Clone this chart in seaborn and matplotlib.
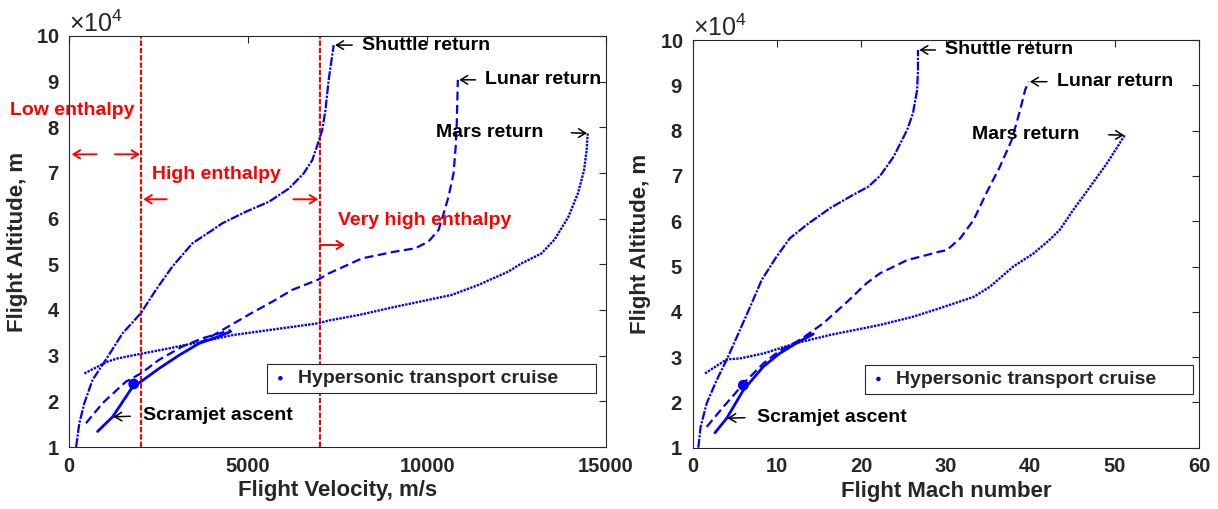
import matplotlib
matplotlib.use("Agg")
import matplotlib.pyplot as plt
import seaborn as sns

# ---------------- Trajectories vs. flight velocity (m/s, m) ----------------
shuttle_vel = [190, 280, 420, 650, 1020, 1490, 2000, 2420, 2880, 3440, 4000, 4280,
               4930, 5580, 6140, 6550, 6790, 6950, 7070, 7160, 7250, 7390]
shuttle_alt_v = [10000, 15200, 19600, 24700, 29100, 34900, 39300, 44400, 49500, 54600, 57500, 59000,
                 61500, 63700, 66600, 69900, 72800, 76500, 79400, 83800, 90400, 98000]

lunar_vel = [3630, 4560, 5110, 5670, 6230, 6970, 7250, 8180, 9110, 9670, 10040, 10320,
             10410, 10600, 10740, 10800, 10830, 10860]
lunar_alt_v = [32700, 36900, 39400, 41800, 44400, 46700, 48000, 51300, 52800, 53500, 55000, 57500,
               59700, 64800, 69900, 75800, 80900, 90400]

mars_vel = [420, 1070, 1350, 2000, 2790, 3720, 4560, 6970, 7250, 8090, 9110, 10690, 11440,
            12270, 12640, 13200, 13570, 13950, 14220, 14390, 14460, 14490]
mars_alt_v = [26100, 28700, 29400, 30400, 31600, 33100, 34500, 37100, 37700, 38900, 40700, 43300, 45500,
              48400, 50200, 52400, 55500, 60400, 65600, 70700, 75000, 78700]

scram_vel = [790, 1210, 1770, 2000, 2510, 3070, 3630, 4180, 4510]
scram_alt_v = [13400, 16600, 23200, 24300, 27200, 30100, 32700, 34200, 35300]

scram_up_vel = [465, 930, 1580, 2000, 2510, 3160, 3720, 4510]
scram_up_alt_v = [15200, 19600, 24300, 26100, 29100, 32000, 33800, 35600]

cruise_vel = [1800]
cruise_alt_v = [23800]

enthalpy_bounds = [2000, 7000]   # m/s

# ---------------- Trajectories vs. flight Mach number ----------------
shuttle_mach = [0.67, 0.94, 1.66, 2.84, 4.03, 5.6, 7.0, 8.17, 9.95, 11.5, 13.5, 16.3,
                19.0, 20.8, 22.2, 23.8, 25.4, 26.1, 26.6, 26.7, 26.7]
shuttle_alt_m = [10000, 14600, 19800, 24900, 29400, 36000, 41900, 47000, 52200, 56200, 59200, 62900,
                 65800, 67600, 70000, 74200, 80100, 83800, 89000, 93400, 97800]

lunar_mach = [11.9, 15.5, 18.3, 20.6, 22.2, 25.4, 29.3, 30.1, 31.7, 33.3, 34.8, 36.4,
              37.8, 38.8, 39.4, 39.8]
lunar_alt_m = [32700, 37500, 42200, 46300, 48500, 51400, 53300, 53600, 56200, 60300, 66200, 72000,
               77900, 84500, 89000, 90800]

mars_mach = [1.46, 4.03, 5.6, 8.37, 12.3, 16.3, 22.2, 26.1, 29.3, 33.3, 35.2, 38.0, 40.4,
             42.3, 43.5, 45.1, 47.1, 49.1, 50.6, 51.2]
mars_alt_m = [26400, 29500, 29700, 30800, 33100, 34900, 37100, 38900, 40800, 43300, 45500, 50000, 52900,
              55900, 58100, 62500, 67600, 72800, 77200, 79000]

scram_mach = [2.64, 4.03, 6.0, 8.37, 10.3, 12.3, 14.3]
scram_alt_m = [13300, 16500, 22700, 27900, 30800, 33100, 35100]

scram_up_mach = [1.66, 3.63, 6.4, 8.37, 10.3, 12.3, 14.5]
scram_up_alt_m = [14600, 19000, 24900, 28600, 31400, 33400, 35600]

cruise_mach = [6.0]
cruise_alt_m = [23800]

# ---------------- Style ----------------
sns.set_theme(style="white")
plt.rcParams["font.family"] = ["Liberation Sans", "DejaVu Sans"]
plt.rcParams["mathtext.fontset"] = "custom"
plt.rcParams["mathtext.rm"] = "Liberation Sans"

BLUE = (0, 0, 1)
GRAY = "#262626"
FS_TICK = 14.5
FS_LABEL = 16
FS_NOTE = 14

LS_SHUTTLE = (0, (4.0, 0.7, 1.0, 0.7))
LS_DASH = (0, (4.0, 2.0))
LS_DOT = (0, (1.0, 0.5))

fig = plt.figure(figsize=(12.18, 5.09), dpi=100)
ax1 = fig.add_axes([0.0569, 0.1218, 0.4406, 0.8075])
ax2 = fig.add_axes([0.5687, 0.1204, 0.4157, 0.8010])


def draw_panel(ax, sx, sy, lx, ly, mx, my, cx, cy, ux, uy, px, py):
    sns.lineplot(x=sx, y=sy, ax=ax, sort=False, estimator=None, color=BLUE,
                 lw=1.6, linestyle=LS_SHUTTLE)
    sns.lineplot(x=ux, y=uy, ax=ax, sort=False, estimator=None, color=BLUE,
                 lw=1.6, linestyle=LS_DASH)
    sns.lineplot(x=lx, y=ly, ax=ax, sort=False, estimator=None, color=BLUE,
                 lw=1.6, linestyle=LS_DASH)
    sns.lineplot(x=mx, y=my, ax=ax, sort=False, estimator=None, color=BLUE,
                 lw=1.7, linestyle=LS_DOT)
    sns.lineplot(x=cx, y=cy, ax=ax, sort=False, estimator=None, color=BLUE,
                 lw=2.0, linestyle="-")
    sns.scatterplot(x=px, y=py, ax=ax, color=BLUE, s=60, edgecolor="none",
                    marker="o", zorder=5)
    return ax.collections[-1]


def style_axes(ax, xlim, xticks, xlabel):
    ax.set_xlim(*xlim)
    ax.set_ylim(10000, 100000)
    ax.set_xticks(xticks)
    ax.set_yticks(range(10000, 100001, 10000))
    ax.ticklabel_format(axis="y", style="sci", scilimits=(4, 4), useMathText=True)
    ax.ticklabel_format(axis="x", style="plain")
    ax.yaxis.get_offset_text().set_fontsize(18)
    ax.yaxis.get_offset_text().set_color(GRAY)
    ax.tick_params(direction="in", length=5, width=0.8, top=True, right=True,
                   labelsize=FS_TICK, colors=GRAY, pad=7)
    for lab in ax.get_xticklabels() + ax.get_yticklabels():
        lab.set_fontweight("bold")
    for sp in ax.spines.values():
        sp.set_visible(True)
        sp.set_color(GRAY)
        sp.set_linewidth(0.8)
    ax.set_xlabel(xlabel, fontsize=FS_LABEL, fontweight="bold", color=GRAY, labelpad=3)
    ax.set_ylabel("Flight Altitude, m", fontsize=FS_LABEL, fontweight="bold", color=GRAY, labelpad=6)


def add_legend(ax, handle, anchor):
    leg = ax.legend(handles=[handle], labels=["Hypersonic transport cruise"],
                    loc="lower left", bbox_to_anchor=anchor, mode="expand",
                    borderaxespad=0, frameon=True, fancybox=False, markerscale=0.42,
                    handlelength=0.8, handletextpad=0.5, borderpad=0.3,
                    prop={"size": FS_NOTE, "weight": "bold"})
    fr = leg.get_frame()
    fr.set_edgecolor(GRAY)
    fr.set_linewidth(0.8)
    fr.set_facecolor("white")
    fr.set_alpha(1)


def note(ax, text, end, dx, shrink_a, shrink_b=1.0, right=False, dy=0):
    ax.annotate(text, xy=end, xytext=(dx, dy), textcoords="offset pixels",
                ha="right" if right else "left", va="center",
                fontsize=FS_NOTE, fontweight="bold", color="black",
                arrowprops=dict(arrowstyle="->,head_length=0.36,head_width=0.22",
                                color="black", lw=1.1, shrinkA=shrink_a, shrinkB=shrink_b,
                                relpos=(1, 0.5) if right else (0, 0.5)),
                annotation_clip=False)


def red_arrow(ax, tail, head):
    ax.annotate("", xy=head, xytext=tail, xycoords="axes fraction", textcoords="axes fraction",
                arrowprops=dict(arrowstyle="->,head_length=0.4,head_width=0.25",
                                color="red", lw=1.4, shrinkA=0, shrinkB=0),
                annotation_clip=False)


# ---------------- Left: altitude vs. velocity ----------------
h1 = draw_panel(ax1, shuttle_vel, shuttle_alt_v, lunar_vel, lunar_alt_v, mars_vel, mars_alt_v,
                scram_vel, scram_alt_v, scram_up_vel, scram_up_alt_v, cruise_vel, cruise_alt_v)
for b in enthalpy_bounds:
    ax1.axvline(b, color="red", lw=1.5, linestyle=(0, (2.6, 0.9)), zorder=1)
style_axes(ax1, (0, 15000), [0, 5000, 10000, 15000], "Flight Velocity, m/s")
add_legend(ax1, h1, (0.368, 0.131, 0.613, 0.071))

note(ax1, "Shuttle return", (shuttle_vel[-1], shuttle_alt_v[-1]), 28, 4.5)
note(ax1, "Lunar return", (lunar_vel[-1], lunar_alt_v[-1]), 27, 4.5)
note(ax1, "Mars return", (mars_vel[-1], mars_alt_v[-1]), -44, 17.5, shrink_b=0.5, right=True, dy=1)
note(ax1, "Scramjet ascent", (scram_vel[1], scram_alt_v[1]), 30, 6.5, shrink_b=0.5, dy=1)

ax1.text(-0.1105, 0.8175, "Low enthalpy", transform=ax1.transAxes, color="red",
         fontsize=FS_NOTE, fontweight="bold", ha="left", va="center", clip_on=False)
ax1.text(0.1535, 0.664, "High enthalpy", transform=ax1.transAxes, color="red",
         fontsize=FS_NOTE, fontweight="bold", ha="left", va="center")
ax1.text(0.501, 0.552, "Very high enthalpy", transform=ax1.transAxes, color="red",
         fontsize=FS_NOTE, fontweight="bold", ha="left", va="center")
red_arrow(ax1, (0.051, 0.712), (0.0045, 0.712))
red_arrow(ax1, (0.0852, 0.712), (0.1317, 0.712))
red_arrow(ax1, (0.1815, 0.6027), (0.1379, 0.6027))
red_arrow(ax1, (0.4174, 0.6027), (0.464, 0.6027))
red_arrow(ax1, (0.467, 0.4915), (0.5137, 0.4915))

# ---------------- Right: altitude vs. Mach number ----------------
h2 = draw_panel(ax2, shuttle_mach, shuttle_alt_m, lunar_mach, lunar_alt_m, mars_mach, mars_alt_m,
                scram_mach, scram_alt_m, scram_up_mach, scram_up_alt_m, cruise_mach, cruise_alt_m)
style_axes(ax2, (0, 60), list(range(0, 61, 10)), "Flight Mach number")
add_legend(ax2, h2, (0.340, 0.132, 0.649, 0.071))

note(ax2, "Shuttle return", (shuttle_mach[-1], shuttle_alt_m[-1]), 27, 4.5)
note(ax2, "Lunar return", (lunar_mach[-1], lunar_alt_m[-1]), 28, 4.5)
note(ax2, "Mars return", (mars_mach[-1], mars_alt_m[-1]), -45, 18.5, shrink_b=0.5, right=True, dy=1)
note(ax2, "Scramjet ascent", (scram_mach[1], scram_alt_m[1]), 30, 6.0, shrink_b=0.5, dy=1)

fig.savefig("out.png", dpi=100)
